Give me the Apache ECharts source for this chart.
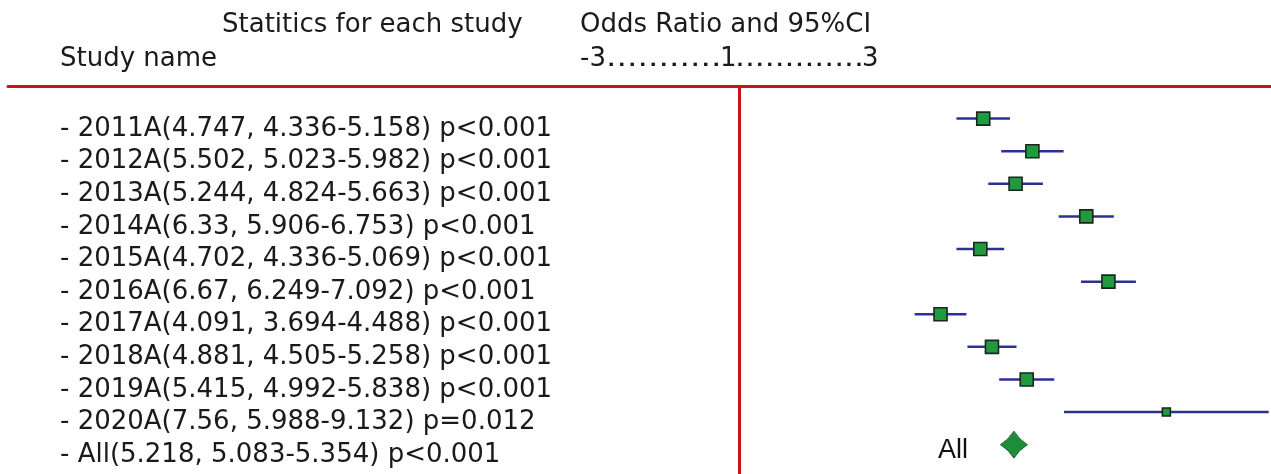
<!DOCTYPE html>
<html>
<head>
<meta charset="utf-8">
<script src="https://cdn.jsdelivr.net/npm/echarts@6/dist/echarts.min.js"></script>
<style>
  html, body { margin: 0; padding: 0; background: #fff; }
  #main { width: 1271px; height: 474px; }
</style>
</head>
<body>
<div id="main"></div>
<script>
// data
var studies = ['2011A', '2012A', '2013A', '2014A', '2015A', '2016A', '2017A', '2018A', '2019A', '2020A', 'All'];
var oddsRatio = [4.747, 5.502, 5.244, 6.33, 4.702, 6.67, 4.091, 4.881, 5.415, 7.56, 5.218];
var lower = [4.336, 5.023, 4.824, 5.906, 4.336, 6.249, 3.694, 4.505, 4.992, 5.988, 5.083];
var upper = [5.158, 5.982, 5.663, 6.753, 5.069, 7.092, 4.488, 5.258, 5.838, 9.132, 5.354];
var pText = ['p<0.001', 'p<0.001', 'p<0.001', 'p<0.001', 'p<0.001', 'p<0.001', 'p<0.001', 'p<0.001', 'p<0.001', 'p=0.012', 'p<0.001'];

var headerLeft = 'Statitics for each study';
var headerName = 'Study name';
var headerRight = 'Odds Ratio and 95%CI';
var scaleTicks = ['-3', '1', '3'];
var scaleDots = ['...........', '.............'];

var RED = '#c4161c';
var TXT = '#1a1a1a';
var FONT = 'DejaVu Sans';
var HFONT = '26px "DejaVu Sans"';

var allIdx = studies.indexOf('All');

// rows for CI lines and squares (without the pooled one)
var ciData = [];
var boxData = [];
for (var i = 0; i < studies.length; i++) {
    if (i === allIdx) continue;
    ciData.push([lower[i], upper[i], i]);
    boxData.push([oddsRatio[i], i, upper[i] - lower[i]]);
}

function headText(x, y, text, sx) {
    return {
        type: 'text', x: x, y: y, scaleX: sx || 1,
        style: { text: text, fill: TXT, font: HFONT, align: 'left', verticalAlign: 'middle' }
    };
}

var chart = echarts.init(document.getElementById('main'));

chart.setOption({
    animation: false,
    backgroundColor: '#fff',
    grid: { left: 8, right: 0, top: 86, bottom: 0 },
    xAxis: {
        type: 'value',
        position: 'top',
        min: -10.2335,
        max: 9.1674,
        axisLine: { show: true, onZero: false, lineStyle: { color: RED, width: 3 } },
        axisTick: { show: false },
        axisLabel: { show: false },
        splitLine: { show: false }
    },
    yAxis: {
        type: 'value',
        inverse: true,
        min: -1,
        max: 10.9,
        interval: 1,
        axisLine: { show: false },
        axisTick: { show: false },
        splitLine: { show: false },
        axisLabel: {
            inside: true,
            margin: 52,
            align: 'left',
            verticalAlign: 'top',
            lineHeight: 21,
            color: TXT,
            fontFamily: FONT,
            fontSize: 26,
            formatter: function (v) {
                if (v < 0 || v >= studies.length || Math.round(v) !== v) return '';
                return '- ' + studies[v] + '(' + oddsRatio[v] + ', ' + lower[v] + '-' + upper[v] + ') ' + pText[v];
            }
        }
    },
    graphic: [
        headText(222, 25, headerLeft),
        headText(60, 59, headerName),
        headText(580, 25, headerRight),
        // the "-3......1......3" line, dots a little wider than the font gives
        headText(580, 59, scaleTicks[0]),
        headText(606, 59, scaleDots[0], 1.27),
        headText(720, 59, scaleTicks[1]),
        headText(735, 59, scaleDots[1], 1.2),
        headText(862, 59, scaleTicks[2])
    ],
    series: [
        {
            type: 'custom',
            name: 'ci',
            data: ciData,
            encode: { x: [0, 1], y: 2 },
            renderItem: function (params, api) {
                var a = api.coord([api.value(0), api.value(2)]);
                var b = api.coord([api.value(1), api.value(2)]);
                return {
                    type: 'line',
                    shape: { x1: a[0], y1: a[1], x2: b[0], y2: b[1] },
                    style: { stroke: '#2b3190', lineWidth: 2.5 }
                };
            },
            markLine: {
                silent: true,
                symbol: 'none',
                label: { show: false },
                lineStyle: { color: RED, width: 3, type: 'solid' },
                data: [{ xAxis: 1 }]
            },
            z: 2
        },
        {
            type: 'scatter',
            name: 'or',
            data: boxData,
            symbol: 'rect',
            // wide interval -> small weight -> small box
            symbolSize: function (val) { return val[2] > 2 ? 8 : 13; },
            itemStyle: { color: '#1f9a3e', borderColor: '#1a261c', borderWidth: 1.6, opacity: 1 },
            z: 3
        },
        {
            type: 'scatter',
            name: 'pooled',
            data: [[oddsRatio[allIdx], allIdx]],
            symbol: 'path://M50,0 Q68.75,31.25 100,50 Q68.75,68.75 50,100 Q31.25,68.75 0,50 Q31.25,31.25 50,0Z',
            symbolSize: [27, 27],
            itemStyle: { color: '#1f8c3a', borderColor: '#17602a', borderWidth: 1, opacity: 1 },
            label: {
                show: true,
                position: 'left',
                distance: 32,
                offset: [0, 6],
                formatter: function () { return studies[allIdx]; },
                color: '#111',
                fontFamily: 'Liberation Sans',
                fontSize: 27
            },
            z: 3
        }
    ]
});
</script>
</body>
</html>
